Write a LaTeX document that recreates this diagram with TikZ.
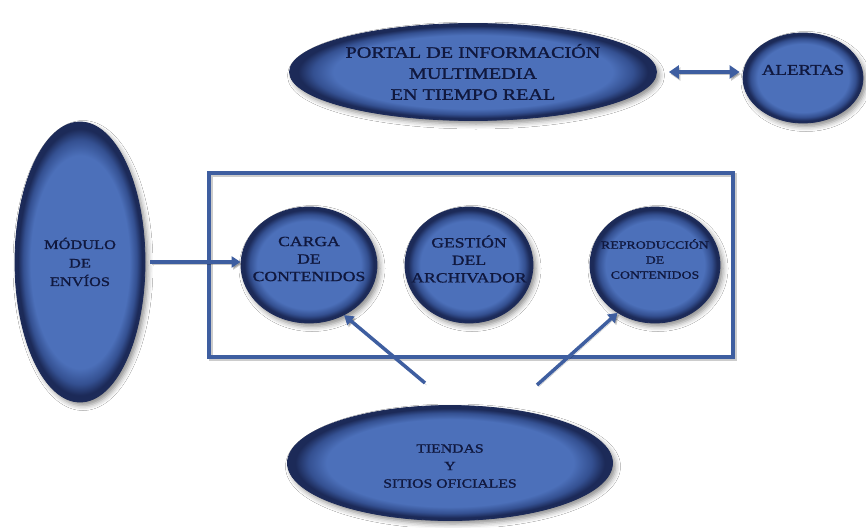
\documentclass[tikz,border=0pt]{standalone}
\usepackage{fontspec}
\newfontfamily\dfont[FakeStretch=1.26,FakeBold=1.2]{Liberation Serif}
\usetikzlibrary{shapes.geometric,arrows.meta,shadows.blur}
\definecolor{blobfill}{RGB}{76,112,186}
\definecolor{blobmid}{RGB}{52,80,145}
\definecolor{blobedge}{RGB}{28,42,88}
\definecolor{txtc}{RGB}{16,24,62}
\definecolor{linec}{RGB}{62,94,160}
\pgfdeclareradialshading{rim}{\pgfpoint{0bp}{0bp}}{color(0bp)=(blobfill); color(19bp)=(blobfill); color(21.8bp)=(blobmid); color(23.8bp)=(blobedge); color(25bp)=(blobedge); color(50bp)=(blobedge)}
\newcommand\fTitle{\dfont\fontsize{16}{21}\selectfont}
\newcommand\fBig{\dfont\fontsize{15}{18}\selectfont}
\newcommand\fMid{\dfont\fontsize{14}{17.5}\selectfont}
\newcommand\fMod{\dfont\fontsize{13}{18.5}\selectfont}
\newcommand\fSmall{\dfont\fontsize{11}{15}\selectfont}
\newcommand\fTi{\dfont\fontsize{12.5}{17.5}\selectfont}
\begin{document}
\begin{tikzpicture}[x=1pt,y=-1pt,
  blob/.style={ellipse, shade, shading=rim, draw=blobedge, line width=0.8pt, inner sep=0pt,
    blur shadow={shadow xshift=3pt, shadow yshift=-3.5pt, shadow blur radius=5pt, shadow opacity=45}},
  txt/.style={text=txtc, align=center, inner sep=0pt},
  arrsh/.style={preaction={draw=black, opacity=0.22, transform canvas={shift={(1.5pt,-2pt)}}}},
  arr/.style={draw=linec, line width=3.5pt, -{Triangle[length=9pt,width=11pt]}, arrsh},
  darr/.style={draw=linec, line width=4pt, {Triangle[length=10pt,width=13pt]}-{Triangle[length=10pt,width=13pt]}, arrsh},
  framebox/.style={draw=linec, line width=4pt, inner sep=0pt,
    preaction={draw=black, opacity=0.2, transform canvas={shift={(1.5pt,-2pt)}}}}]
\useasboundingbox (0,0) rectangle (866,527);
\fill[white] (0,0) rectangle (866,527);

\node[blob, minimum width=367pt, minimum height=97pt,
  label={[txt,name=portalt,font=\fTitle]center:PORTAL DE INFORMACIÓN\\MULTIMEDIA\\EN TIEMPO REAL}] (portal) at (473,72) {};
\node[blob, minimum width=120pt, minimum height=90pt,
  label={[txt,name=alertast,font=\fBig,yshift=8pt]center:ALERTAS}] (alertas) at (803,78) {};
\node[blob, minimum width=130pt, minimum height=280pt,
  label={[txt,name=modt,font=\fMod]center:MÓDULO\\DE\\ENVÍOS}] (mod) at (80,262) {};

\node[framebox, minimum width=524pt, minimum height=184pt] (frame) at (471,265) {};

\node[blob, minimum width=136pt, minimum height=116pt,
  label={[txt,name=cargat,font=\fMid,yshift=6pt]center:CARGA\\DE\\CONTENIDOS}] (carga) at (309,265) {};
\node[blob, minimum width=128pt, minimum height=116pt,
  label={[txt,name=gestt,font=\fMid,yshift=6pt]center:GESTIÓN\\DEL\\ARCHIVADOR}] (gest) at (469,265) {};
\node[blob, minimum width=130pt, minimum height=116pt,
  label={[txt,name=reprot,font=\fSmall,yshift=6pt]center:REPRODUCCIÓN\\DE\\CONTENIDOS}] (repro) at (655,265) {};

\node[blob, minimum width=325pt, minimum height=115pt,
  label={[txt,name=tiendast,font=\fTi,yshift=-3pt]center:TIENDAS\\Y\\SITIOS OFICIALES}] (tiendas) at (450,463) {};

\coordinate (t1) at (425,383);
\coordinate (t2) at (537,385);

\draw[arr] ([xshift=5pt]mod.east) -- (mod.east -| carga.west);
\draw[arr] (t1) -- (carga.-55);
\draw[arr] (t2) -- (repro.-128);
\draw[darr] ([xshift=12pt]portal.east) -- ([xshift=-3pt]portal.east -| alertas.west);
\end{tikzpicture}
\end{document}
